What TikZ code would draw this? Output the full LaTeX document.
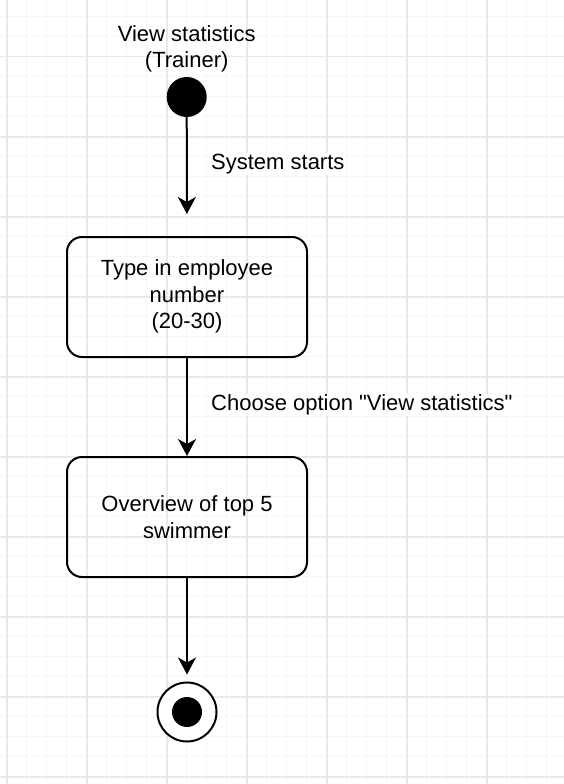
\documentclass[tikz,border=0pt]{standalone}
\usepackage{fontspec}
\setmainfont{Liberation Sans}[Ligatures=TeXOff]
\usetikzlibrary{arrows.meta}
\definecolor{gridminor}{HTML}{F6F6F6}
\definecolor{gridmajor}{HTML}{E9E9E9}
\tikzset{
  txt/.style={font=\fontsize{22}{26.4}\selectfont, align=center, inner sep=0pt},
  actbox/.style={draw, line width=2pt, rounded corners=15pt, minimum width=240pt, minimum height=120pt, txt},
  startdot/.style={circle, fill=black, minimum size=40pt, inner sep=0pt},
  flow/.style={line width=2pt, -{Stealth[length=17pt, width=18pt, inset=5pt]}},
  lbl/.style={txt, fill=white, anchor=west, inner sep=1pt}
}
\begin{document}
\begin{tikzpicture}[x=1pt, y=-1pt]
\useasboundingbox (0,0) rectangle (564,784);
\fill[white] (0,0) rectangle (564,784);
% grid
\begin{scope}
\clip (0,0) rectangle (564,784);
\foreach \i in {0,...,29} {
  \draw[gridminor, line width=1.5pt] ({6.7+20*\i-20},0) -- ({6.7+20*\i-20},784);
}
\foreach \i in {0,...,40} {
  \draw[gridminor, line width=1.5pt] (0,{16.7+20*\i-20}) -- (564,{16.7+20*\i-20});
}
\foreach \i in {0,...,7} {
  \draw[gridmajor, line width=1.6pt] ({6.7+80*\i},0) -- ({6.7+80*\i},784);
}
\foreach \i in {0,...,10} {
  \draw[gridmajor, line width=1.6pt] (0,{-23.3+80*\i}) -- (564,{-23.3+80*\i});
}
\end{scope}
% nodes
\node[txt] (title) at (186.7,49) {View statistics\\(Trainer)};
\node[startdot] (start) at (186.7,97) {};
\node[actbox] (box1) at (187,297) {\raisebox{-2.5pt}{\begin{tabular}{@{}c@{}}Type in employee\\number\\(20-30)\end{tabular}}};
\node[actbox] (box2) at (187,517) {Overview of top 5\\swimmer};
\node[circle, draw, line width=2pt, minimum size=59pt, inner sep=0pt, fill=white] (end) at (187,712) {};
\node[circle, fill=black, minimum size=30pt, inner sep=0pt] (endin) at (end.center) {};
% connectors
\draw[flow, shorten >=22pt] (start) -- (box1);
\draw[flow] (box1) -- (box2);
\draw[flow, shorten >=7pt] (box2) -- (end);
% labels
\node[lbl] (l1) at (210,164) {System starts};
\node[lbl] (l2) at (210,405) {Choose option "View statistics"};
\end{tikzpicture}
\end{document}
